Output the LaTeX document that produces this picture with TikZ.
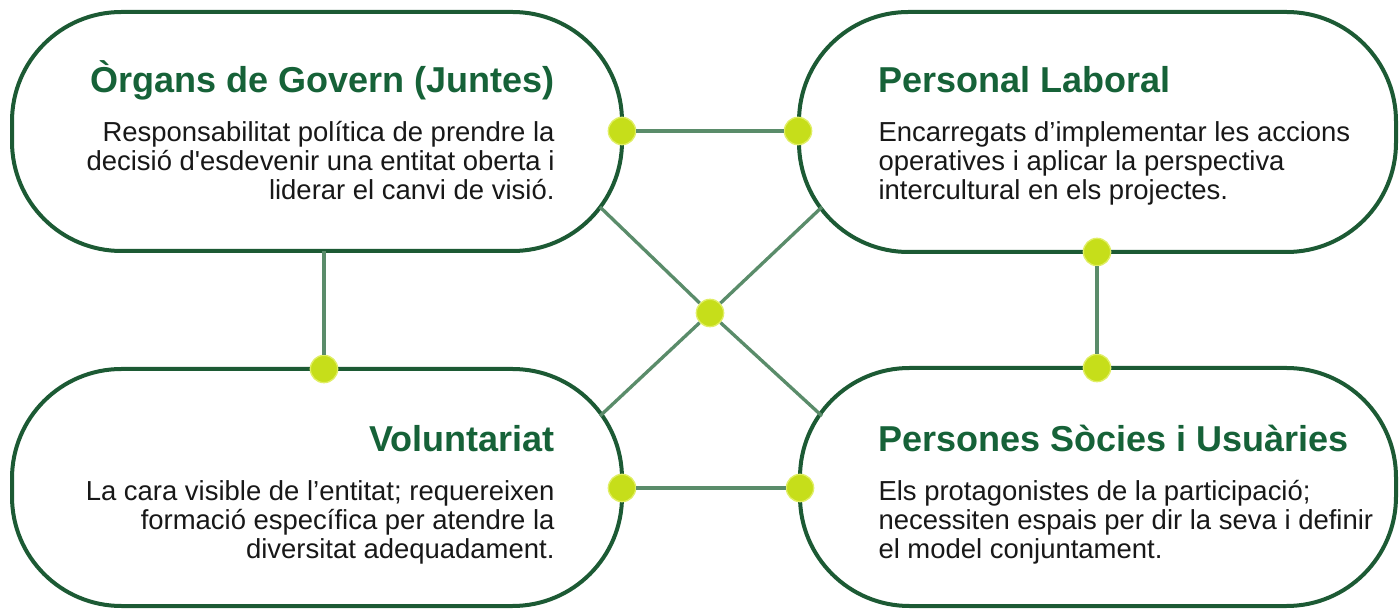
\documentclass[tikz,border=0pt]{standalone}
\usepackage{fontspec}
\setmainfont{Liberation Sans}

\definecolor{boxgreen}{RGB}{28,90,52}
\definecolor{titlegreen}{RGB}{22,98,56}
\definecolor{linkgreen}{RGB}{90,140,106}
\definecolor{dotfill}{RGB}{198,222,26}
\definecolor{dotrim}{RGB}{224,238,100}
\definecolor{bodytext}{RGB}{24,24,24}

\tikzset{every picture/.style={line width=0.75pt},
	pill/.style={draw=boxgreen, line width=3pt, fill=white, rounded corners=82pt},
	link/.style={draw=linkgreen, line width=2.5pt},
	joint/.style={circle, fill=dotfill, draw=dotrim, line width=1pt, minimum size=20.5pt, inner sep=0pt},
	headtxt/.style={inner sep=0pt, text=titlegreen, font=\fontsize{27}{30}\selectfont\bfseries},
	bodytxt/.style={inner sep=0pt, text=bodytext, font=\fontsize{20.6}{21.8}\selectfont}}

\begin{document}
\begin{tikzpicture}[x=0.75pt,y=0.75pt,yscale=-1,xscale=1]
	\useasboundingbox (0,0) rectangle (1400,609);

	%Shape: Rounded Rectangle
	\draw [pill] (12,12) rectangle (622,251);
	%Shape: Rounded Rectangle
	\draw [pill] (799,12) rectangle (1396,252);
	%Shape: Rounded Rectangle
	\draw [pill] (12,369) rectangle (622,606);
	%Shape: Rounded Rectangle
	\draw [pill] (800,368) rectangle (1396,606);

	% Points on the box outlines
	\coordinate (orgB) at (324,251);
	\coordinate (orgD) at (600,207);
	\coordinate (labD) at (822,207);
	\coordinate (volD) at (600,416);
	\coordinate (socD) at (822,416);

	% Joints
	\node [joint] (orgR) at (622,131) {};
	\node [joint] (labL) at (798,131) {};
	\node [joint] (labB) at (1097,252) {};
	\node [joint] (socT) at (1097,368) {};
	\node [joint] (volT) at (324,369) {};
	\node [joint] (volR) at (622,488) {};
	\node [joint] (socL) at (800,488) {};
	\node [joint] (mid) at (710,313) {};

	%Straight Lines
	\draw [link] (orgR) -- (labL);
	\draw [link] (volR) -- (socL);
	\draw [link] (orgB) -- (volT);
	\draw [link] (labB) -- (socT);
	\draw [link] (orgD) -- (mid) -- (socD);
	\draw [link] (labD) -- (mid) -- (volD);

	% Text Node
	\node [headtxt, anchor=base east] (orgHead) at (555,93) {Òrgans de Govern (Juntes)};
	% Text Node
	\node [bodytxt, anchor=north east, align=right] (orgBody) at (555,121) {Responsabilitat política de prendre la\\decisió d\textquotesingle esdevenir una entitat oberta i\\liderar el canvi de visió.};
	% Text Node
	\node [headtxt, anchor=base west] (labHead) at (878,93) {Personal Laboral};
	% Text Node
	\node [bodytxt, anchor=north west, align=left] (labBody) at (878,121) {Encarregats d’implementar les accions\\operatives i aplicar la perspectiva\\intercultural en els projectes.};
	% Text Node
	\node [headtxt, anchor=base east] (volHead) at (555,452) {Voluntariat};
	% Text Node
	\node [bodytxt, anchor=north east, align=right] (volBody) at (555,480) {La cara visible de l’entitat; requereixen\\formació específica per atendre la\\diversitat adequadament.};
	% Text Node
	\node [headtxt, anchor=base west] (socHead) at (878,452) {Persones Sòcies i Usuàries};
	% Text Node
	\node [bodytxt, anchor=north west, align=left] (socBody) at (878,480) {Els protagonistes de la participació;\\necessiten espais per dir la seva i definir\\el model conjuntament.};

\end{tikzpicture}
\end{document}
